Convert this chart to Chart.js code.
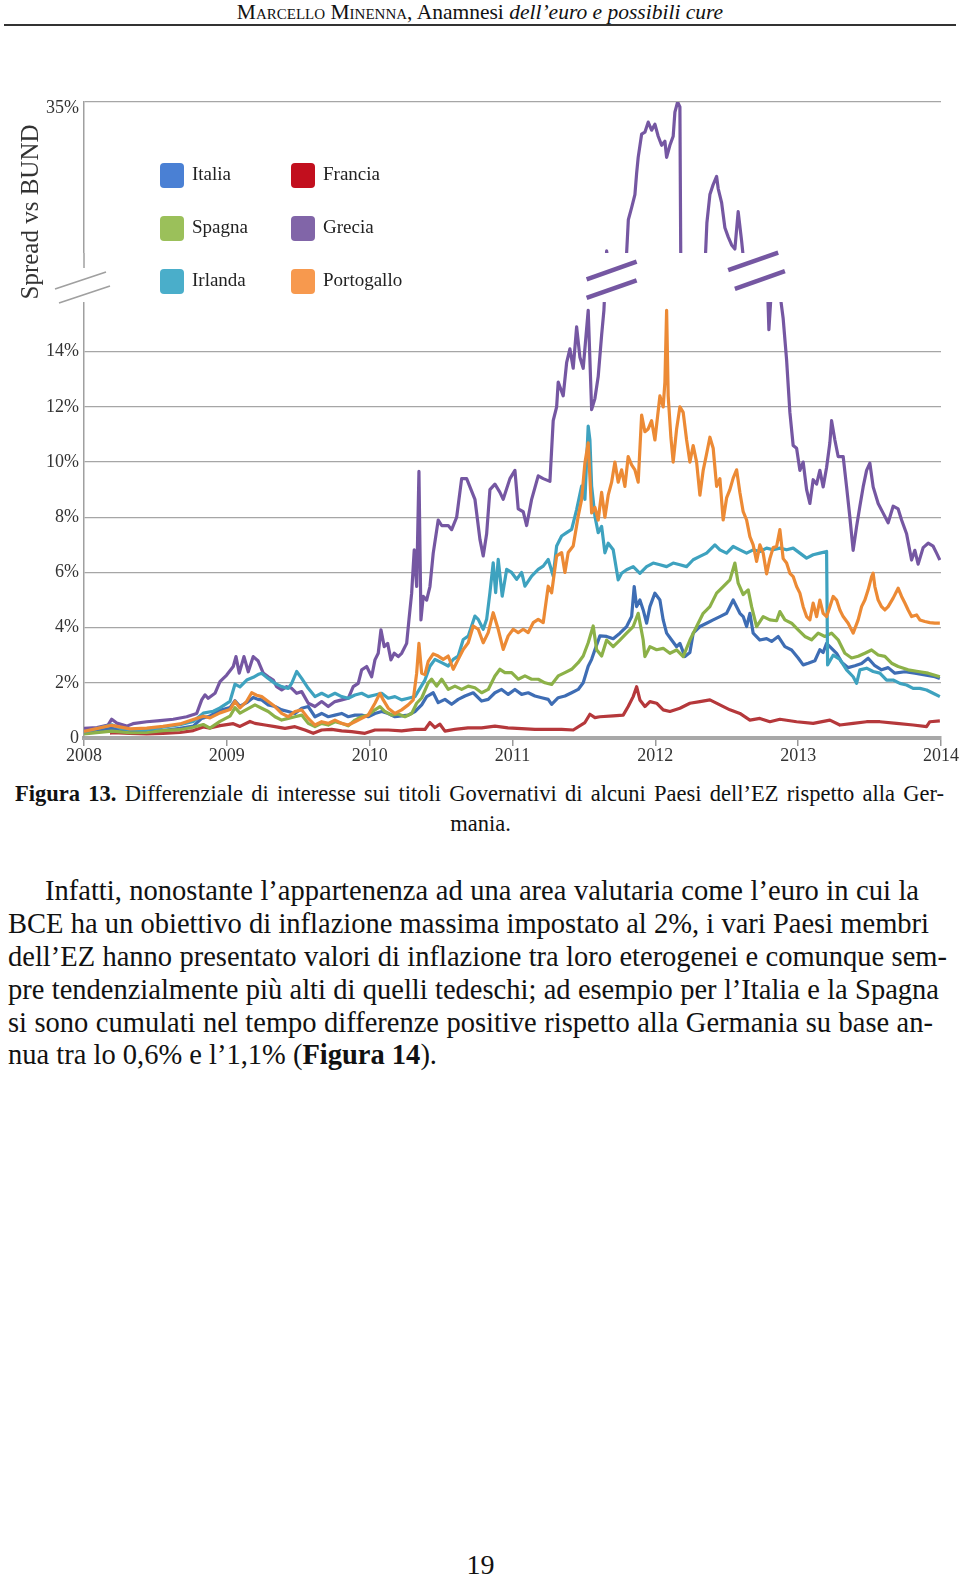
<!DOCTYPE html>
<html lang="it">
<head>
<meta charset="utf-8">
<title>Figura 13 – Spread vs BUND</title>
<script src="https://cdn.jsdelivr.net/npm/chart.js@4.4.1/dist/chart.umd.min.js"></script>
<style>
    html, body { margin: 0; padding: 0; background: #fff; }
    body {
        width: 960px; height: 1580px; position: relative; overflow: hidden;
        font-family: "Liberation Serif", "Times New Roman", serif; color: #111;
    }
    .header { position: absolute; left: 0; top: 0; width: 960px; text-align: center; font-size: 21.5px; line-height: 24px; }
    .header .sc { font-variant: small-caps; }
    .rule { position: absolute; left: 4px; top: 24px; width: 952px; height: 2px; background: #333; }
    .chart-box { position: absolute; left: 0; top: 0; width: 960px; height: 780px; }
    .jl { position: absolute; text-align: justify; text-align-last: justify; }
    .cap { font-size: 22.5px; line-height: 28px; }
    .body { font-size: 28.5px; line-height: 33px; }
    .centre { position: absolute; text-align: center; }
</style>
</head>
<body>

<div class="header"><span class="sc">Marcello Minenna</span>, Anamnesi <i>dell’euro e possibili cure</i></div>
<div class="rule"></div>

<div class="chart-box"><canvas id="chartSpread"></canvas></div>

<div class="jl cap" style="left:15px; width:929px; top:780px;"><b>Figura 13.</b> Differenziale di interesse sui titoli Governativi di alcuni Paesi dell’EZ rispetto alla Ger-</div>
<div class="centre cap" style="left:0; width:961px; top:810px;">mania.</div>

<div class="jl body" style="left:45px; width:874px; top:874px;">Infatti, nonostante l’appartenenza ad una area valutaria come l’euro in cui la</div>
<div class="jl body" style="left:8px; width:921px; top:907px;">BCE ha un obiettivo di inflazione massima impostato al 2%, i vari Paesi membri</div>
<div class="jl body" style="left:8px; width:939px; top:940px;">dell’EZ hanno presentato valori di inflazione tra loro eterogenei e comunque sem-</div>
<div class="jl body" style="left:8px; width:931px; top:973px;">pre tendenzialmente più alti di quelli tedeschi; ad esempio per l’Italia e la Spagna</div>
<div class="jl body" style="left:8px; width:925px; top:1006px;">si sono cumulati nel tempo differenze positive rispetto alla Germania su base an-</div>
<div class="body" style="position:absolute; left:8px; top:1038px;">nua tra lo 0,6% e l’1,1% (<b>Figura 14</b>).</div>

<div class="centre body" style="left:0; width:961px; top:1548px; font-size:28px;">19</div>

<script>
/* ═══════════════════════════════════════════════
   Figura 13 — spread dei titoli di Stato vs BUND
   ═══════════════════════════════════════════════ */

/* ── Data (decimal year, spread %) ── */
const ANNI = [2008, 2009, 2010, 2011, 2012, 2013, 2014];
const Y_TICKS = [0, 2, 4, 6, 8, 10, 12, 14, 35];
const PAESI = ['Italia', 'Francia', 'Spagna', 'Grecia', 'Irlanda', 'Portogallo'];

const italia = [
    [2008.000,0.23],[2008.194,0.35],[2008.322,0.23],[2008.439,0.23],[2008.553,0.27],[2008.672,0.35],[2008.765,0.43],[2008.824,0.71],
    [2008.882,0.80],[2008.952,1.00],[2009.022,1.10],[2009.057,1.35],[2009.092,1.15],[2009.139,1.28],[2009.185,1.47],[2009.218,1.40],
    [2009.244,1.38],[2009.290,1.20],[2009.337,1.14],[2009.384,1.02],[2009.430,0.96],[2009.477,0.89],[2009.524,1.08],[2009.570,1.14],
    [2009.617,0.77],[2009.664,0.89],[2009.710,0.77],[2009.757,0.83],[2009.804,0.89],[2009.850,0.77],[2009.897,0.83],[2009.944,0.83],
    [2009.990,0.77],[2010.037,0.89],[2010.084,0.96],[2010.130,0.89],[2010.177,0.77],[2010.224,0.80],[2010.270,0.83],[2010.317,0.96],
    [2010.364,1.20],[2010.399,1.50],[2010.445,1.64],[2010.480,1.28],[2010.527,1.40],[2010.574,1.22],[2010.620,1.40],[2010.667,1.52],
    [2010.725,1.64],[2010.784,1.34],[2010.830,1.40],[2010.877,1.64],[2010.924,1.76],[2010.970,1.58],[2011.017,1.76],[2011.064,1.58],
    [2011.110,1.64],[2011.157,1.52],[2011.204,1.46],[2011.250,1.40],[2011.274,1.22],[2011.320,1.46],[2011.367,1.52],[2011.414,1.64],
    [2011.460,1.76],[2011.495,2.00],[2011.530,2.60],[2011.554,2.85],[2011.577,3.20],[2011.612,3.70],[2011.659,3.68],[2011.705,3.60],
    [2011.752,3.80],[2011.799,4.04],[2011.834,4.40],[2011.852,5.49],[2011.869,4.76],[2011.892,5.00],[2011.915,4.64],[2011.939,4.16],
    [2011.962,4.76],[2011.997,5.25],[2012.032,5.00],[2012.055,4.28],[2012.079,3.80],[2012.114,3.55],[2012.149,3.31],[2012.172,3.43],
    [2012.207,2.95],[2012.242,3.10],[2012.265,3.80],[2012.312,4.04],[2012.359,4.16],[2012.405,4.28],[2012.452,4.40],[2012.499,4.52],
    [2012.545,5.00],[2012.569,4.76],[2012.592,4.52],[2012.615,4.40],[2012.639,4.04],[2012.662,4.52],[2012.685,3.80],[2012.732,3.55],
    [2012.779,3.60],[2012.814,3.50],[2012.860,3.68],[2012.907,3.31],[2012.954,3.19],[2013.000,2.90],[2013.035,2.65],[2013.070,2.71],
    [2013.117,2.80],[2013.152,3.20],[2013.175,3.10],[2013.199,3.43],[2013.234,3.25],[2013.269,3.07],[2013.304,2.75],[2013.350,2.55],
    [2013.397,2.62],[2013.444,2.70],[2013.490,2.89],[2013.537,2.62],[2013.584,2.47],[2013.630,2.55],[2013.677,2.35],[2013.747,2.40],
    [2013.817,2.35],[2013.887,2.29],[2013.957,2.22],[2013.992,2.16]
];

const francia = [
    [2008.182,0.18],[2008.205,0.19],[2008.322,0.17],[2008.439,0.15],[2008.553,0.17],[2008.672,0.20],[2008.765,0.27],[2008.835,0.40],
    [2008.882,0.36],[2008.952,0.45],[2009.045,0.52],[2009.092,0.42],[2009.162,0.60],[2009.197,0.53],[2009.267,0.47],[2009.337,0.41],
    [2009.407,0.35],[2009.477,0.41],[2009.547,0.29],[2009.605,0.17],[2009.664,0.29],[2009.734,0.31],[2009.804,0.26],[2009.874,0.23],
    [2009.967,0.17],[2010.037,0.29],[2010.130,0.29],[2010.224,0.26],[2010.317,0.31],[2010.387,0.31],[2010.422,0.56],[2010.457,0.38],
    [2010.492,0.50],[2010.527,0.25],[2010.597,0.31],[2010.688,0.37],[2010.784,0.37],[2010.877,0.43],[2010.968,0.37],[2011.064,0.34],
    [2011.157,0.31],[2011.250,0.31],[2011.344,0.31],[2011.425,0.29],[2011.507,0.56],[2011.542,0.86],[2011.577,0.74],[2011.612,0.77],
    [2011.705,0.80],[2011.775,0.83],[2011.810,1.14],[2011.845,1.50],[2011.869,1.86],[2011.892,1.38],[2011.927,1.14],[2011.962,1.32],
    [2012.009,1.26],[2012.055,1.02],[2012.102,0.96],[2012.172,1.08],[2012.242,1.26],[2012.312,1.32],[2012.382,1.38],[2012.452,1.20],
    [2012.522,1.02],[2012.592,0.89],[2012.662,0.65],[2012.732,0.71],[2012.802,0.59],[2012.872,0.68],[2012.989,0.59],[2013.105,0.53],
    [2013.222,0.65],[2013.292,0.47],[2013.385,0.53],[2013.479,0.59],[2013.572,0.59],[2013.689,0.53],[2013.805,0.47],[2013.899,0.41],
    [2013.922,0.59],[2013.992,0.62]
];

const spagna = [
    [2008.000,0.15],[2008.194,0.25],[2008.322,0.19],[2008.439,0.20],[2008.553,0.27],[2008.672,0.30],[2008.765,0.39],[2008.835,0.49],
    [2008.882,0.36],[2008.952,0.60],[2009.022,0.79],[2009.057,1.10],[2009.092,0.90],[2009.162,1.10],[2009.197,1.20],[2009.244,1.08],
    [2009.290,0.96],[2009.337,0.77],[2009.384,0.65],[2009.430,0.71],[2009.477,0.77],[2009.524,0.83],[2009.570,0.53],[2009.617,0.41],
    [2009.664,0.53],[2009.710,0.47],[2009.757,0.59],[2009.804,0.53],[2009.850,0.44],[2009.897,0.65],[2009.944,0.77],[2009.990,0.83],
    [2010.037,1.02],[2010.072,1.14],[2010.107,0.96],[2010.154,0.83],[2010.200,0.87],[2010.247,0.77],[2010.294,0.89],[2010.329,1.26],
    [2010.364,1.45],[2010.410,2.00],[2010.434,2.13],[2010.469,1.88],[2010.504,2.13],[2010.550,1.76],[2010.597,1.88],[2010.644,1.76],
    [2010.690,1.88],[2010.737,1.82],[2010.784,1.64],[2010.830,1.76],[2010.877,2.25],[2010.912,2.49],[2010.947,2.37],[2010.994,2.37],
    [2011.040,2.13],[2011.087,2.25],[2011.134,2.13],[2011.180,2.13],[2011.227,2.00],[2011.274,1.94],[2011.320,2.25],[2011.367,2.37],
    [2011.414,2.49],[2011.460,2.73],[2011.495,2.97],[2011.530,3.45],[2011.565,4.06],[2011.589,3.20],[2011.624,2.97],[2011.659,3.55],
    [2011.705,3.31],[2011.752,3.55],[2011.799,3.80],[2011.845,4.04],[2011.880,4.52],[2011.915,3.55],[2011.927,2.95],[2011.962,3.31],
    [2012.009,3.20],[2012.055,3.25],[2012.102,3.07],[2012.149,3.19],[2012.195,2.95],[2012.242,3.55],[2012.289,4.04],[2012.335,4.52],
    [2012.382,4.76],[2012.429,5.25],[2012.475,5.49],[2012.522,5.73],[2012.557,6.34],[2012.580,5.61],[2012.615,5.20],[2012.650,5.37],
    [2012.674,4.76],[2012.709,4.04],[2012.755,4.40],[2012.802,4.28],[2012.849,4.25],[2012.872,4.58],[2012.907,4.28],[2012.954,4.16],
    [2013.000,3.92],[2013.047,3.68],[2013.094,3.56],[2013.140,3.80],[2013.187,3.68],[2013.234,3.80],[2013.280,3.56],[2013.327,3.07],
    [2013.374,2.90],[2013.420,2.96],[2013.467,3.07],[2013.514,3.19],[2013.560,3.01],[2013.607,2.96],[2013.654,2.71],[2013.700,2.59],
    [2013.770,2.47],[2013.840,2.41],[2013.910,2.35],[2013.992,2.22]
];

const grecia = [
    [2008.000,0.35],[2008.091,0.38],[2008.168,0.47],[2008.194,0.68],[2008.229,0.54],[2008.299,0.43],[2008.343,0.52],[2008.439,0.59],
    [2008.532,0.63],[2008.625,0.68],[2008.719,0.77],[2008.789,0.89],[2008.824,1.38],[2008.847,1.56],[2008.870,1.44],[2008.917,1.62],
    [2008.952,2.04],[2008.999,2.28],[2009.045,2.59],[2009.064,2.95],[2009.087,2.35],[2009.120,2.95],[2009.150,2.40],[2009.185,2.95],
    [2009.218,2.80],[2009.255,2.35],[2009.290,2.22],[2009.325,2.10],[2009.349,1.86],[2009.384,1.74],[2009.419,1.86],[2009.454,1.80],
    [2009.489,1.62],[2009.524,1.68],[2009.570,1.26],[2009.617,1.14],[2009.664,1.32],[2009.710,1.14],[2009.757,1.32],[2009.804,1.38],
    [2009.850,1.44],[2009.885,1.86],[2009.920,1.98],[2009.944,2.47],[2009.979,2.59],[2010.014,2.22],[2010.037,2.83],[2010.060,3.07],
    [2010.079,3.92],[2010.102,3.31],[2010.126,3.43],[2010.149,2.83],[2010.172,3.07],[2010.200,2.95],[2010.224,3.07],[2010.259,3.43],
    [2010.275,4.28],[2010.294,5.25],[2010.312,6.82],[2010.329,5.49],[2010.345,9.66],[2010.359,4.28],[2010.375,5.13],[2010.399,5.00],
    [2010.422,5.49],[2010.445,6.70],[2010.480,7.90],[2010.504,7.70],[2010.550,7.70],[2010.574,7.55],[2010.609,8.00],[2010.644,9.40],
    [2010.679,9.40],[2010.702,9.10],[2010.737,8.65],[2010.772,7.20],[2010.795,6.60],[2010.819,7.40],[2010.842,9.00],[2010.877,9.20],
    [2010.912,8.90],[2010.935,8.65],[2010.982,9.40],[2011.017,9.70],[2011.040,8.30],[2011.075,8.20],[2011.099,7.70],[2011.134,8.65],
    [2011.180,9.50],[2011.215,9.40],[2011.262,9.30],[2011.285,11.5],[2011.309,12.0],[2011.320,12.9],[2011.355,12.4],[2011.379,13.6],
    [2011.402,14.1],[2011.425,13.4],[2011.449,14.9],[2011.472,13.8],[2011.495,13.4],[2011.530,15.5],[2011.554,11.9],[2011.577,12.3],
    [2011.600,13.1],[2011.624,14.6],[2011.640,15.5],[2011.659,20.2],[2011.682,18.0],[2011.717,17.5],[2011.752,18.5],[2011.787,19.5],
    [2011.799,20.0],[2011.811,23.3],[2011.834,24.5],[2011.857,25.8],[2011.869,27.9],[2011.880,29.5],[2011.904,31.8],[2011.927,32.0],
    [2011.950,33.0],[2011.974,32.2],[2011.997,32.8],[2012.020,31.6],[2012.044,30.7],[2012.067,31.1],[2012.079,29.5],[2012.102,30.7],
    [2012.125,31.6],[2012.137,34.0],[2012.156,35.0],[2012.172,34.5],[2012.179,17.5],[2012.242,17.5],[2012.312,18.5],[2012.351,19.8],
    [2012.361,23.0],[2012.382,25.8],[2012.405,26.8],[2012.429,27.6],[2012.440,26.4],[2012.464,25.0],[2012.487,22.5],[2012.510,21.6],
    [2012.534,20.8],[2012.557,20.4],[2012.580,24.1],[2012.604,21.2],[2012.617,19.5],[2012.676,18.0],[2012.746,17.0],[2012.788,16.2],
    [2012.795,14.8],[2012.809,16.2],[2012.844,16.5],[2012.879,15.9],[2012.895,15.2],[2012.919,13.7],[2012.942,11.8],[2012.965,10.6],
    [2012.989,10.5],[2013.012,9.70],[2013.035,10.0],[2013.059,9.00],[2013.082,8.50],[2013.105,9.36],[2013.129,9.20],[2013.152,9.70],
    [2013.175,9.10],[2013.199,9.80],[2013.222,10.7],[2013.234,11.5],[2013.257,10.8],[2013.280,10.2],[2013.315,10.2],[2013.339,9.10],
    [2013.362,8.00],[2013.385,6.80],[2013.409,7.66],[2013.432,8.40],[2013.455,9.10],[2013.479,9.70],[2013.502,9.96],[2013.525,9.10],
    [2013.560,8.50],[2013.595,8.15],[2013.630,7.80],[2013.665,8.40],[2013.700,8.30],[2013.724,7.90],[2013.759,7.40],[2013.794,6.45],
    [2013.817,6.80],[2013.840,6.30],[2013.875,6.90],[2013.910,7.06],[2013.945,6.95],[2013.969,6.70],[2013.992,6.45]
];

const irlanda = [
    [2008.000,0.22],[2008.194,0.48],[2008.252,0.36],[2008.322,0.30],[2008.439,0.30],[2008.553,0.39],[2008.672,0.48],[2008.765,0.60],
    [2008.835,0.90],[2008.905,0.97],[2008.952,1.09],[2009.022,1.33],[2009.057,1.95],[2009.092,1.85],[2009.139,2.10],[2009.185,2.20],
    [2009.218,2.30],[2009.244,2.35],[2009.290,2.16],[2009.337,1.98],[2009.384,1.86],[2009.430,1.80],[2009.454,1.98],[2009.489,2.41],
    [2009.524,2.16],[2009.570,1.80],[2009.617,1.50],[2009.664,1.62],[2009.710,1.50],[2009.757,1.62],[2009.804,1.50],[2009.850,1.44],
    [2009.897,1.56],[2009.944,1.62],[2009.990,1.50],[2010.037,1.56],[2010.084,1.62],[2010.130,1.44],[2010.177,1.50],[2010.224,1.38],
    [2010.270,1.44],[2010.317,1.50],[2010.352,1.80],[2010.387,2.10],[2010.422,2.60],[2010.457,2.85],[2010.504,2.73],[2010.550,2.61],
    [2010.585,2.85],[2010.620,2.97],[2010.655,3.57],[2010.690,3.69],[2010.737,4.42],[2010.760,4.30],[2010.795,3.94],[2010.819,4.30],
    [2010.842,5.27],[2010.865,6.35],[2010.882,5.27],[2010.900,6.47],[2010.928,5.14],[2010.959,6.11],[2010.994,6.00],[2011.029,5.75],
    [2011.064,6.00],[2011.087,5.50],[2011.134,5.87],[2011.180,6.11],[2011.215,6.23],[2011.250,6.47],[2011.285,5.87],[2011.309,6.96],
    [2011.344,7.32],[2011.379,7.44],[2011.414,7.56],[2011.449,8.28],[2011.484,9.13],[2011.507,8.65],[2011.530,11.3],[2011.542,10.8],
    [2011.554,9.13],[2011.577,8.04],[2011.600,7.44],[2011.624,7.67],[2011.647,6.71],[2011.670,7.06],[2011.705,6.82],[2011.740,5.73],
    [2011.764,5.97],[2011.799,6.10],[2011.845,6.21],[2011.892,5.97],[2011.939,6.21],[2011.985,6.34],[2012.032,6.28],[2012.079,6.21],
    [2012.125,6.34],[2012.172,6.28],[2012.219,6.21],[2012.265,6.46],[2012.312,6.58],[2012.359,6.70],[2012.417,7.00],[2012.452,6.82],
    [2012.499,6.70],[2012.545,6.94],[2012.592,6.82],[2012.639,6.70],[2012.685,6.82],[2012.732,6.76],[2012.779,6.88],[2012.825,6.82],
    [2012.872,6.88],[2012.919,6.82],[2012.965,6.88],[2013.012,6.70],[2013.059,6.52],[2013.105,6.64],[2013.152,6.70],[2013.199,6.76],
    [2013.206,2.65],[2013.245,3.00],[2013.292,2.85],[2013.339,2.47],[2013.385,2.22],[2013.409,1.98],[2013.432,2.47],[2013.479,2.53],
    [2013.525,2.41],[2013.572,2.35],[2013.619,2.10],[2013.665,2.10],[2013.712,1.98],[2013.759,1.92],[2013.805,1.80],[2013.852,1.80],
    [2013.899,1.74],[2013.945,1.62],[2013.992,1.50]
];

const portogallo = [
    [2008.000,0.24],[2008.194,0.46],[2008.322,0.33],[2008.439,0.36],[2008.553,0.42],[2008.672,0.51],[2008.765,0.67],[2008.835,0.79],
    [2008.882,0.73],[2008.952,0.91],[2009.022,1.03],[2009.057,1.33],[2009.092,1.09],[2009.139,1.33],[2009.174,1.64],[2009.209,1.55],
    [2009.244,1.50],[2009.290,1.32],[2009.337,1.14],[2009.384,0.89],[2009.430,0.77],[2009.477,0.96],[2009.524,1.02],[2009.570,0.71],
    [2009.617,0.47],[2009.664,0.59],[2009.710,0.53],[2009.757,0.65],[2009.804,0.53],[2009.850,0.47],[2009.897,0.59],[2009.944,0.71],
    [2009.990,0.83],[2010.037,1.26],[2010.072,1.62],[2010.095,1.38],[2010.130,1.08],[2010.177,0.89],[2010.224,1.02],[2010.270,1.20],
    [2010.305,1.38],[2010.329,2.35],[2010.345,3.43],[2010.364,2.35],[2010.387,2.30],[2010.410,2.78],[2010.445,3.05],[2010.480,2.97],
    [2010.515,2.85],[2010.550,2.97],[2010.585,2.49],[2010.620,2.85],[2010.655,3.21],[2010.690,3.45],[2010.725,4.06],[2010.760,3.94],
    [2010.795,3.45],[2010.830,3.82],[2010.865,4.54],[2010.900,3.94],[2010.935,3.21],[2010.970,3.70],[2011.005,3.94],[2011.040,3.82],
    [2011.075,3.94],[2011.110,3.82],[2011.145,4.18],[2011.180,4.30],[2011.215,4.18],[2011.250,5.50],[2011.274,5.26],[2011.309,6.60],
    [2011.344,6.72],[2011.367,6.00],[2011.390,6.72],[2011.425,6.96],[2011.460,8.04],[2011.484,8.65],[2011.507,9.97],[2011.530,10.7],
    [2011.554,8.16],[2011.577,8.36],[2011.600,7.90],[2011.624,8.90],[2011.647,8.00],[2011.670,8.80],[2011.694,9.27],[2011.717,10.0],
    [2011.740,9.27],[2011.764,9.72],[2011.787,9.12],[2011.810,10.2],[2011.834,9.90],[2011.857,9.72],[2011.880,9.27],[2011.904,11.7],
    [2011.927,11.1],[2011.950,11.2],[2011.974,11.5],[2011.997,10.8],[2012.032,12.4],[2012.055,12.0],[2012.067,12.9],[2012.079,15.5],
    [2012.090,12.4],[2012.109,10.9],[2012.125,10.0],[2012.149,11.2],[2012.172,12.0],[2012.195,11.8],[2012.219,10.8],[2012.242,10.0],
    [2012.265,10.6],[2012.289,10.0],[2012.312,8.80],[2012.335,9.70],[2012.359,10.3],[2012.382,10.9],[2012.405,10.5],[2012.429,9.12],
    [2012.452,9.40],[2012.475,7.90],[2012.499,8.70],[2012.522,9.00],[2012.545,9.42],[2012.569,9.72],[2012.592,8.90],[2012.615,8.20],
    [2012.639,7.90],[2012.662,7.30],[2012.685,7.00],[2012.709,6.40],[2012.732,7.00],[2012.755,6.70],[2012.779,5.95],[2012.802,6.50],
    [2012.825,6.90],[2012.849,6.94],[2012.872,7.55],[2012.895,6.50],[2012.919,6.34],[2012.942,5.97],[2012.965,5.85],[2012.989,5.49],
    [2013.012,5.25],[2013.035,4.76],[2013.059,4.40],[2013.082,4.28],[2013.105,4.89],[2013.129,4.40],[2013.152,5.00],[2013.175,4.52],
    [2013.199,4.40],[2013.222,4.76],[2013.245,5.13],[2013.269,5.00],[2013.292,4.64],[2013.315,4.40],[2013.350,4.16],[2013.385,3.80],
    [2013.420,4.28],[2013.444,4.76],[2013.467,5.00],[2013.490,5.37],[2013.514,5.85],[2013.525,5.97],[2013.537,5.49],[2013.560,5.00],
    [2013.584,4.76],[2013.607,4.64],[2013.630,4.76],[2013.665,5.07],[2013.700,5.43],[2013.724,5.13],[2013.747,4.89],[2013.770,4.64],
    [2013.794,4.40],[2013.829,4.46],[2013.852,4.28],[2013.887,4.22],[2013.922,4.18],[2013.957,4.16],[2013.992,4.16]
];

/* ── Styles ── */
const SERIF = '"Liberation Serif", "Times New Roman", serif';
const LINE_COLORS   = ['#3e6db4', '#b5383b', '#8cb148', '#7557a2', '#3ea2bf', '#ec8a35'];
const LEGEND_COLORS = ['#4a80d4', '#c20f1e', '#9bc05a', '#8165a8', '#4aaeca', '#f7994e'];
const GRID_GREY = '#a6a6a6';
const TICK_FONT = { family: SERIF, size: 18 };

/* broken y axis: value -> fraction of plot height (lower part 0-15.8, hidden band, upper part 20-35) */
const Y_BREAK = [15.8, 20];
const Y_KNOTS = [[0, 0], [15.8, 0.6855], [20, 0.7626], [35, 1]];

class BrokenLinearScale extends Chart.LinearScale {
    static id = 'brokenLinear';

    buildTicks() {
        this.start = this.min;
        this.end = this.max;
        return Y_TICKS.map((v) => ({ value: v }));
    }

    getPixelForValue(value) {
        let f = 1;
        for (let i = 1; i < Y_KNOTS.length; i++) {
            const [v0, f0] = Y_KNOTS[i - 1];
            const [v1, f1] = Y_KNOTS[i];
            if (value <= v1 || i === Y_KNOTS.length - 1) {
                f = f0 + ((value - v0) / (v1 - v0)) * (f1 - f0);
                break;
            }
        }
        return this.bottom - f * (this.bottom - this.top);
    }

    getValueForPixel(pixel) {
        const f = (this.bottom - pixel) / (this.bottom - this.top);
        for (let i = 1; i < Y_KNOTS.length; i++) {
            const [v0, f0] = Y_KNOTS[i - 1];
            const [v1, f1] = Y_KNOTS[i];
            if (f <= f1 || i === Y_KNOTS.length - 1) return v0 + ((f - f0) / (f1 - f0)) * (v1 - v0);
        }
        return 0;
    }
}
Chart.register(BrokenLinearScale);

/* ── Break band, break marks, legend and axis title ── */
const decorPlugin = {
    id: 'decor',
    afterDatasetsDraw(chart) {
        const { ctx, chartArea: area, scales: { x, y } } = chart;
        const yHi = y.getPixelForValue(Y_BREAK[1]);
        const yLo = y.getPixelForValue(Y_BREAK[0]);

        ctx.save();
        // blank band where the scale is cut
        ctx.fillStyle = '#fff';
        ctx.fillRect(area.left - 3, yHi, area.right - area.left + 20, yLo - yHi);

        const seg = (x1, y1, x2, y2) => {
            ctx.beginPath();
            ctx.moveTo(x1, y1);
            ctx.lineTo(x2, y2);
            ctx.stroke();
        };

        // y axis stub above the gap
        ctx.strokeStyle = '#a0a0a0';
        ctx.lineWidth = 1.5;
        seg(area.left, yHi, area.left, yHi + 15);

        // grey slashes on the axis
        seg(area.left - 29, yHi + 36, area.left + 22, yHi + 19);
        seg(area.left - 25, yHi + 50, area.left + 26, yHi + 33);

        // purple slashes where Grecia crosses the cut
        ctx.strokeStyle = LINE_COLORS[3];
        ctx.lineWidth = 4.5;
        const marks = [[2011.694, 17.5], [2011.694, 36.2], [2012.685, 8.4], [2012.732, 27]];
        marks.forEach(([t, dy]) => {
            const cx = x.getPixelForValue(t);
            const cy = yHi + dy;
            seg(cx - 25, cy + 8.8, cx + 25, cy - 8.8);
        });
        ctx.restore();
    },
    afterDraw(chart) {
        const { ctx, chartArea: area, scales: { y } } = chart;
        ctx.save();

        // top tick label sits just below its grid line
        const topTick = Y_TICKS[Y_TICKS.length - 1];
        ctx.font = TICK_FONT.size + 'px ' + SERIF;
        ctx.fillStyle = '#333';
        ctx.textAlign = 'right';
        ctx.textBaseline = 'middle';
        ctx.fillText(topTick + '%', area.left - 5, y.getPixelForValue(topTick) + 6);

        // legend: 3 rows x 2 columns
        ctx.font = '19px ' + SERIF;
        ctx.textAlign = 'left';
        chart.data.datasets.forEach((ds, i) => {
            const col = i % 2;
            const row = Math.floor(i / 2);
            const sx = area.left + 76 + col * 131;
            const cy = area.top + 73 + row * 53;
            ctx.fillStyle = ds.legendColor;
            ctx.beginPath();
            ctx.roundRect(sx, cy - 12, 24, 25, 4);
            ctx.fill();
            ctx.fillStyle = '#222';
            ctx.fillText(ds.label, sx + 32, cy);
        });

        // axis title, centred on the upper part of the axis
        ctx.translate(area.left - 53, area.top + 110);
        ctx.rotate(-Math.PI / 2);
        ctx.textAlign = 'center';
        ctx.font = '25px ' + SERIF;
        ctx.fillStyle = '#333';
        ctx.fillText('Spread vs BUND', 0, 0);
        ctx.restore();
    }
};

/* ── Chart ── */
function initSpreadChart() {
    const canvas = document.getElementById('chartSpread');
    const series = [italia, francia, spagna, grecia, irlanda, portogallo];
    const topTick = Y_TICKS[Y_TICKS.length - 1];

    new Chart(canvas, {
        type: 'line',
        data: {
            datasets: series.map((s, i) => ({
                label: PAESI[i],
                data: s.map(([t, v]) => ({ x: t, y: v })),
                borderColor: LINE_COLORS[i],
                legendColor: LEGEND_COLORS[i],
                borderWidth: 3.2,
                borderJoinStyle: 'round',
                pointRadius: 0,
                tension: 0,
                order: -i,
            })),
        },
        options: {
            responsive: true,
            maintainAspectRatio: false,
            animation: false,
            devicePixelRatio: 1,
            layout: { padding: { top: 102, right: 19, bottom: 0, left: 0 } },
            plugins: { legend: { display: false }, tooltip: { enabled: false } },
            scales: {
                x: {
                    type: 'linear',
                    min: ANNI[0],
                    max: ANNI[ANNI.length - 1],
                    afterBuildTicks: (s) => { s.ticks = ANNI.map((v) => ({ value: v })); },
                    afterFit: (s) => { s.height = 42; },
                    grid: { drawOnChartArea: false, tickLength: 8, color: '#9a9a9a', lineWidth: 1.5 },
                    border: { color: '#a8a8a8', width: 4 },
                    ticks: {
                        autoSkip: false, maxRotation: 0, padding: -1, color: '#333',
                        font: TICK_FONT,
                        callback: (v) => String(v),
                    },
                },
                y: {
                    type: 'brokenLinear',
                    min: 0,
                    max: topTick,
                    afterFit: (s) => { s.width = 84; },
                    grid: {
                        drawTicks: false,
                        color: GRID_GREY,
                        lineWidth: (c) => (c.tick && c.tick.value === 0 ? 0 : 1.3),
                    },
                    border: { color: '#a0a0a0', width: 1.5 },
                    ticks: {
                        autoSkip: false, padding: 5, color: '#333',
                        font: TICK_FONT,
                        // the top label is drawn by the plugin, a little lower
                        callback: (v) => (v === 0 ? '0' : v === topTick ? '' : v + '%'),
                    },
                },
            },
        },
        plugins: [decorPlugin],
    });
}

if (document.readyState === 'loading') {
    document.addEventListener('DOMContentLoaded', initSpreadChart);
} else {
    initSpreadChart();
}
</script>
</body>
</html>
